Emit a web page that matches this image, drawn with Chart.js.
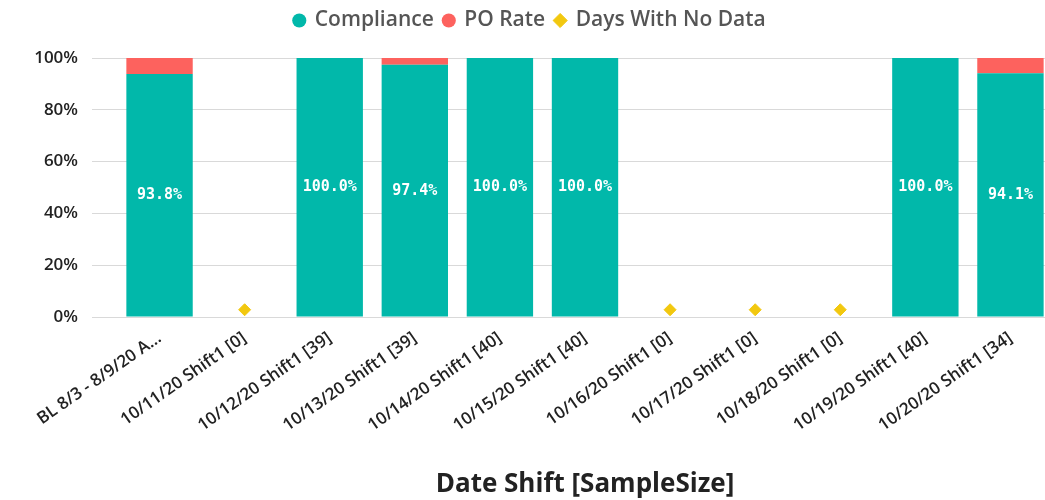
<!DOCTYPE html>
<html>
<head>
<meta charset="utf-8">
<script src="https://cdn.jsdelivr.net/npm/chart.js@4/dist/chart.umd.min.js"></script>
<style>
  body { margin: 0; background: #fff; overflow: hidden; }
  #wrap { width: 1060px; height: 500px; }
</style>
</head>
<body>
<div id="wrap"><canvas id="chart"></canvas></div>
<script>
// Data
const categories = [
    'BL 8/3 - 8/9/20 A...', '10/11/20 Shift1 [0]', '10/12/20 Shift1 [39]', '10/13/20 Shift1 [39]',
    '10/14/20 Shift1 [40]', '10/15/20 Shift1 [40]', '10/16/20 Shift1 [0]', '10/17/20 Shift1 [0]',
    '10/18/20 Shift1 [0]', '10/19/20 Shift1 [40]', '10/20/20 Shift1 [34]'
];
const compliance = [93.8, null, 100, 97.4, 100, 100, null, null, null, 100, 94.1];
const poRate = [6.2, null, 0, 2.6, 0, 0, null, null, null, 0, 5.9];
const noData = [null, 2.8, null, null, null, null, 2.8, 2.8, 2.8, null, null];
const yTicks = [0, 20, 40, 60, 80, 100];

// Labels in the bars
const barLabels = {
    id: 'barLabels',
    afterDatasetsDraw(chart) {
        const ctx = chart.ctx;
        const meta = chart.getDatasetMeta(0);
        ctx.save();
        ctx.fillStyle = '#ffffff';
        ctx.font = 'bold 15px "DejaVu Sans Mono"';
        ctx.textAlign = 'center';
        ctx.textBaseline = 'middle';
        meta.data.forEach((bar, i) => {
            if (compliance[i] == null) return;
            ctx.fillText(compliance[i].toFixed(1) + '%', bar.x, (bar.y + bar.base) / 2);
        });
        ctx.restore();
    }
};

// Extra room under the legend
const legendSpace = {
    id: 'legendSpace',
    beforeInit(chart) {
        const fit = chart.legend.fit;
        chart.legend.fit = function () {
            fit.call(this);
            this.height += 17;
        };
    }
};

const ctx = document.getElementById('chart').getContext('2d');
new Chart(ctx, {
    data: {
        labels: categories,
        datasets: [{
            type: 'bar',
            label: 'Compliance',
            data: compliance,
            backgroundColor: '#01B8AA',
            barPercentage: 0.78,
            categoryPercentage: 1,
            pointStyle: 'circle',
            stack: 'a'
        }, {
            type: 'bar',
            label: 'PO Rate',
            data: poRate,
            backgroundColor: '#FD625E',
            barPercentage: 0.78,
            categoryPercentage: 1,
            pointStyle: 'circle',
            stack: 'a'
        }, {
            type: 'line',
            label: 'Days With No Data',
            data: noData,
            showLine: false,
            pointStyle: 'rectRot',
            pointRadius: 6,
            backgroundColor: '#F2C80F',
            borderColor: '#F2C80F',
            stack: 'nd'
        }]
    },
    options: {
        responsive: true,
        maintainAspectRatio: false,
        animation: false,
        layout: { padding: { top: 0, bottom: 0 } },
        plugins: {
            legend: {
                position: 'top',
                labels: {
                    usePointStyle: true,
                    boxWidth: 10,
                    boxHeight: 10,
                    padding: 10,
                    color: '#555',
                    font: { family: '"Open Sans"', size: 21, weight: '600' }
                }
            },
            tooltip: { enabled: false }
        },
        scales: {
            x: {
                stacked: true,
                grid: { display: false },
                border: { display: false },
                afterFit: scale => { scale.height = 183; },
                ticks: {
                    autoSkip: false,
                    maxRotation: 35,
                    minRotation: 35,
                    color: '#222',
                    font: { family: '"Open Sans"', size: 17, weight: '600' }
                },
                title: {
                    display: true,
                    text: 'Date Shift [SampleSize]',
                    color: '#222',
                    font: { family: '"Open Sans"', size: 26, weight: 'bold' },
                    padding: { top: 0, bottom: 0 }
                }
            },
            y: {
                stacked: true,
                min: 0,
                max: 100,
                afterBuildTicks: scale => {
                    scale.ticks = yTicks.map(v => ({ value: v }));
                },
                afterFit: scale => { scale.width = 117; },
                grid: { color: '#d9d9d9', tickLength: 25 },
                border: { display: false },
                ticks: {
                    padding: 14,
                    color: '#222',
                    font: { family: '"Open Sans"', size: 17, weight: '600' },
                    callback: v => v + '%'
                }
            }
        }
    },
    plugins: [barLabels, legendSpace]
});
</script>
</body>
</html>
